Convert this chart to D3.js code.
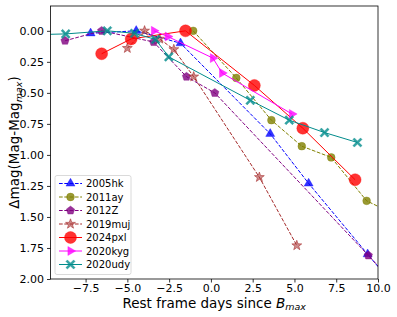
<!DOCTYPE html>
<html><head><meta charset="utf-8">
<script src="https://cdn.jsdelivr.net/npm/d3@7"></script>
<style>body{margin:0;background:#fff}svg{display:block;font-family:"DejaVu Sans",sans-serif}</style>
</head><body><svg id="c" width="397" height="317"></svg>
<script>
// ---- data ----
const names = ["2005hk","2011ay","2012Z","2019muj","2024pxl","2020kyg","2020udy"];
const colors = ["#0000ff","#808000","#800080","#a52a2a","#ff0000","#ff00ff","#008b8b"];
const dashed = [true,true,true,true,false,false,false];
const markers = ["triUp","circle","pentagon","star","bigCircle","triRight","xcross"];

const x2005hk = [-7.2,-4.47,-1.82,3.55,5.85,9.38,11.0];
const y2005hk = [0.02,0.0,0.10,0.83,1.23,1.80,2.06];
const x2011ay = [-1.06,1.52,3.62,5.44,7.2,9.32,11.0];
const y2011ay = [0.0,0.38,0.72,0.93,1.02,1.37,1.48];
const x2012Z = [-8.73,-6.54,-3.43,-1.46,0.23,9.42,11.0];
const y2012Z = [0.08,0.0,0.09,0.37,0.50,1.81,2.04];
const x2019muj = [-5.0,-3.97,-3.07,-2.22,-1.03,2.9,5.14];
const y2019muj = [0.14,0.0,0.065,0.15,0.37,1.18,1.73];
const x2024pxl = [-6.54,-4.77,-1.52,2.6,5.5,8.63];
const y2024pxl = [0.185,0.065,0.0,0.44,0.785,1.20];
const x2020kyg = [-3.41,-2.58,0.12,0.67,4.85];
const y2020kyg = [0.0,0.046,0.22,0.34,0.67];
const x2020udy = [-10.2,-8.69,-6.2,-4.57,-3.31,-2.52,2.36,4.69,6.8,8.77];
const y2020udy = [0.03,0.025,0.0,0.02,0.07,0.21,0.56,0.72,0.82,0.90];

const xs = [x2005hk,x2011ay,x2012Z,x2019muj,x2024pxl,x2020kyg,x2020udy];
const ys = [y2005hk,y2011ay,y2012Z,y2019muj,y2024pxl,y2020kyg,y2020udy];

const xTicks = [-7.5,-5.0,-2.5,0.0,2.5,5.0,7.5,10.0];
const yTicks = [0,0.25,0.5,0.75,1.0,1.25,1.5,1.75,2.0];

// ---- layout ----
const L=50.5,R=378,T=6,B=279;
const svg=d3.select("#c");
const x=d3.scaleLinear().domain([-9.6,10]).range([L,R]);
const y=d3.scaleLinear().domain([-0.2,2.0]).range([T,B]);

svg.append("defs").append("clipPath").attr("id","clip").append("rect")
  .attr("x",L).attr("y",T).attr("width",R-L).attr("height",B-T);

function markerPath(type){
  const p=d3.path();
  const poly=(pts)=>{pts.forEach((q,i)=>i?p.lineTo(q[0],q[1]):p.moveTo(q[0],q[1]));p.closePath();};
  const reg=(n,r,rot)=>d3.range(n).map(i=>{const a=rot+i*2*Math.PI/n;return [r*Math.cos(a),r*Math.sin(a)];});
  switch(type){
    case "circle": p.arc(0,0,3.9,0,2*Math.PI); break;
    case "bigCircle": p.arc(0,0,6,0,2*Math.PI); break;
    case "triUp": poly(reg(3,5.2,-Math.PI/2)); break;
    case "triRight": poly(reg(3,5.2,0)); break;
    case "pentagon": poly(reg(5,4.4,-Math.PI/2)); break;
    case "star": {
      const pts=[];for(let i=0;i<10;i++){const r=i%2?2.1:5.2;const a=-Math.PI/2+i*Math.PI/5;pts.push([r*Math.cos(a),r*Math.sin(a)]);}
      poly(pts);break;}
    case "xcross": {
      const w=1.5,s=4.6;const base=[[w,0],[s,s-w],[s-w,s],[0,w],[-s+w,s],[-s,s-w],[-w,0],[-s,-s+w],[-s+w,-s],[0,-w],[s-w,-s],[s,-s+w]];
      poly(base);break;}
  }
  return p.toString();
}

const plot=svg.append("g").attr("clip-path","url(#clip)");
names.forEach((n,i)=>{
  const pts=xs[i].map((v,j)=>[v,ys[i][j]]);
  const g=plot.append("g");
  g.append("path").attr("d",d3.line().x(d=>x(d[0])).y(d=>y(d[1]))(pts))
    .attr("fill","none").attr("stroke",colors[i]).attr("stroke-width",1)
    .attr("stroke-dasharray",dashed[i]?"3.7,1.6":null);
  g.selectAll(".m").data(pts).enter().append("path")
    .attr("d",markerPath(markers[i]))
    .attr("transform",d=>`translate(${x(d[0])},${y(d[1])})`)
    .attr("fill",colors[i]).attr("fill-opacity",markers[i]==="star"?0.55:0.8)
    .attr("stroke",colors[i]).attr("stroke-opacity",0.7).attr("stroke-width",markers[i]==="star"?0.8:0.5);
});

// axes
const xa=svg.append("g").attr("transform",`translate(0,${B})`)
  .call(d3.axisBottom(x).tickValues(xTicks).tickFormat(d=>d3.format(".1f")(d).replace("-","\u2212")).tickSize(3.5).tickPadding(1.5));
const ya=svg.append("g").attr("transform",`translate(${L},0)`)
  .call(d3.axisLeft(y).tickValues(yTicks).tickFormat(d3.format(".2f")).tickSize(3.5).tickPadding(3));
[xa,ya].forEach(a=>{a.select(".domain").remove();a.selectAll("text").attr("font-size",11).attr("fill","#000").attr("font-family","DejaVu Sans");a.selectAll("line").attr("stroke","#000").attr("stroke-width",0.8);});

svg.append("rect").attr("x",L).attr("y",T).attr("width",R-L).attr("height",B-T)
  .attr("fill","none").attr("stroke","#000").attr("stroke-width",0.8);

// axis labels
const xl=svg.append("text").attr("x",(L+R)/2).attr("y",307.5).attr("text-anchor","middle").attr("font-size",13.5);
xl.append("tspan").text("Rest frame days since ");
xl.append("tspan").attr("font-style","italic").text("B");
xl.append("tspan").attr("font-style","italic").attr("font-size",9.5).attr("dy",2.5).text("max");

const yl=svg.append("text").attr("transform",`translate(19,${(T+B)/2}) rotate(-90)`).attr("text-anchor","middle").attr("font-size",13.5);
yl.append("tspan").text("\u0394mag(Mag-Mag");
yl.append("tspan").attr("font-style","italic").attr("font-size",9.5).attr("dy",2.5).text("max");
yl.append("tspan").attr("dy",-2.5).text(")");

// legend
const lg=svg.append("g");
lg.append("rect").attr("x",55).attr("y",175.5).attr("width",76).attr("height",99).attr("rx",2)
  .attr("fill","#fff").attr("fill-opacity",0.8).attr("stroke","#d0d0d0").attr("stroke-width",0.8);
names.forEach((n,i)=>{
  const yy=183.5+i*13.5;
  lg.append("line").attr("x1",59).attr("x2",82).attr("y1",yy).attr("y2",yy)
    .attr("stroke",colors[i]).attr("stroke-width",1).attr("stroke-dasharray",dashed[i]?"3.7,1.6":null);
  lg.append("path").attr("d",markerPath(markers[i])).attr("transform",`translate(70.5,${yy})`)
    .attr("fill",colors[i]).attr("fill-opacity",markers[i]==="star"?0.55:0.8)
    .attr("stroke",colors[i]).attr("stroke-opacity",0.7).attr("stroke-width",markers[i]==="star"?0.8:0.5);
  lg.append("text").attr("x",86).attr("y",yy+3.6).attr("font-size",10).text(n);
});
</script></body></html>
